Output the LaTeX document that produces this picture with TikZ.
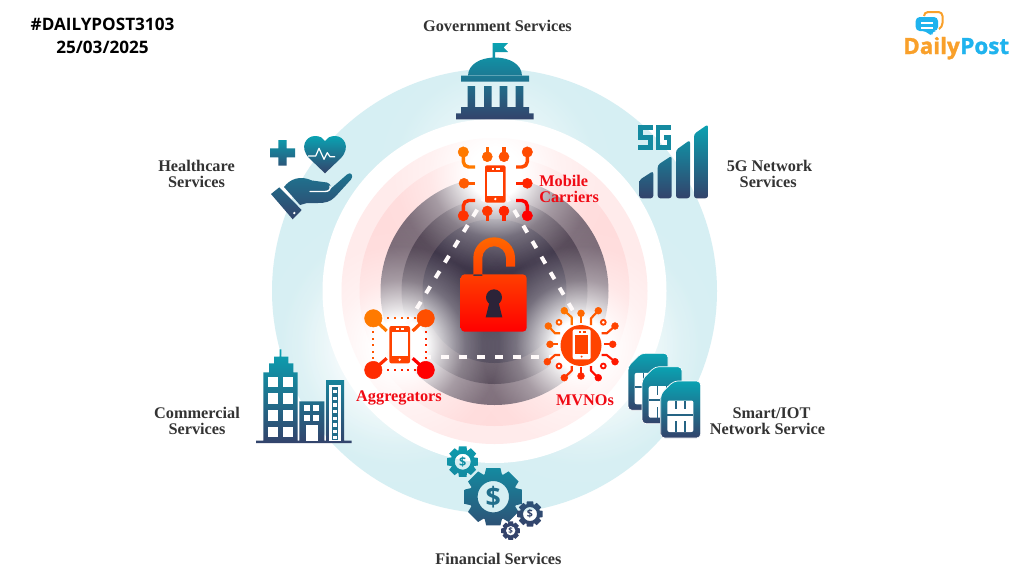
\documentclass[tikz,border=0pt]{standalone}
\usepackage{fontspec}
\setmainfont{Liberation Serif}
\newfontfamily\headf{Open Sans}
\newfontfamily\logof[BoldFeatures={FakeBold=1.3}]{Open Sans}
\usetikzlibrary{fadings,calc}
\definecolor{tealT}{HTML}{0AA2B2}
\definecolor{tealB}{HTML}{33436B}
\definecolor{ringblue}{HTML}{D6EFF3}
\definecolor{pinkA}{HTML}{FFEBEB}
\definecolor{pinkB}{HTML}{FFDCDC}
\definecolor{darkA}{HTML}{776673}
\definecolor{darkB}{HTML}{4A3C4C}
\definecolor{darkC}{HTML}{2C2338}
\definecolor{rA}{HTML}{FF7A00}
\definecolor{rB}{HTML}{FF0000}
\definecolor{lbl}{HTML}{333333}
\definecolor{lblred}{HTML}{F00A14}
\definecolor{logoO}{HTML}{F9A02A}
\definecolor{logoB}{HTML}{1FB3EE}
\pgfdeclareradialshading{glowsh}{\pgfpointorigin}{color(0bp)=(transparent!0); color(5bp)=(transparent!0); color(12.5bp)=(transparent!65); color(19bp)=(transparent!95); color(25bp)=(transparent!100); color(50bp)=(transparent!100)}
\pgfdeclarefading{glowfade}{\pgfuseshading{glowsh}}
\tikzset{
  tealgrad/.style={top color=tealT,bottom color=tealB,draw=none},
  redgrad/.style={top color=#1,bottom color=rB,draw=none},
  rc/.style={draw=rB!#1!rA,fill=rB!#1!rA},
  wire/.style={line width=1pt,fill=none,line join=round},
  glow/.style={fill=white,path fading=glowfade},
  svclabel/.style={font=\fontsize{12.2}{12}\selectfont\bfseries,text=lbl,align=center,inner sep=0pt},
  redlabel/.style={font=\fontsize{12.2}{12}\selectfont\bfseries,text=lblred,align=left,inner sep=0pt},
  headlabel/.style={font=\headf\fontsize{12.85}{13}\selectfont\bfseries,text=black,inner sep=0pt},
  dashlink/.style={draw=white!92!pink,line width=3pt,dash pattern=on 6pt off 7.5pt}
}
\newcommand\phoneicon[3]{%
  \fill[#3,rounded corners=1.5pt] ({#1-10.3},{#2-18.7}) rectangle ({#1+10.3},{#2+18.7});
  \fill[white] ({#1-8},{#2-12.3}) rectangle ({#1+8},{#2+11.7});
  \fill[white] ({#1-3.5},{#2-16.3}) rectangle ({#1-1},{#2-14.3});
  \fill[white] ({#1+1},{#2-16.3}) rectangle ({#1+4.5},{#2-14.3});
  \fill[white] (#1,{#2+15}) circle (1.3);
}
\newcommand\geartrain[7]{% cx cy outer root hole topcolor bottomcolor
  \path[top color=#6,bottom color=#7,even odd rule] ($(#1,#2)+(-14:#3)$)
    \foreach \a in {0,45,...,315} { -- ($(#1,#2)+(\a-14:#3)$) -- ($(#1,#2)+(\a+14:#3)$) -- ($(#1,#2)+(\a+21:#4)$) -- ($(#1,#2)+(\a+24:#4)$) } -- cycle
    (#1,#2) circle (#5);
}
\newcommand\simcard[2]{%
  \path[tealgrad,draw=white,line width=.5pt,rounded corners=3pt] ({#1+13},#2) -- ({#1+40},#2) -- ({#1+40},{#2+57}) -- (#1,{#2+57}) -- (#1,{#2+13}) -- cycle;
  \fill[white,rounded corners=1.5pt] ({#1+6.7},{#2+19.5}) rectangle ({#1+32.7},{#2+51});
  \fill[tealB!65!tealT] ({#1+6.7},{#2+32.5}) rectangle ({#1+32.7},{#2+34.5});
  \foreach \q in {14.6,23.6} {
    \fill[tealB!65!tealT] ({#1+\q},{#2+19.5}) rectangle ({#1+\q+1.8},{#2+28});
    \fill[tealB!65!tealT] ({#1+\q},{#2+40}) rectangle ({#1+\q+1.8},{#2+51});
  }
}
\begin{document}
\begin{tikzpicture}[x=0.75pt,y=-0.75pt]
\useasboundingbox (0,0) rectangle (1024,576);
\fill[white] (0,0) rectangle (1024,576);
% rings
\coordinate (hub) at (494.5,291);
\fill[ringblue] (hub) circle (222.5);
\fill[glow] (400,345) circle (155);
\fill[glow] (581,345) circle (155);
\fill[white] (hub) circle (172);
\fill[pinkA] (hub) circle (153);
\fill[pinkB] (hub) circle (135);
\fill[darkA] (hub) circle (114);
\fill[darkB] (hub) circle (93);
\fill[darkC] (hub) circle (72);
\fill[glow] (495,172) circle (130);
\fill[glow] (400,345) circle (130);
\fill[glow] (581,345) circle (130);
% links
\coordinate (apexT) at (496,179);
\coordinate (apexL) at (387,357);
\coordinate (apexR) at (600,357);
\draw[dashlink] (apexT) -- (apexL);
\draw[dashlink] (apexT) -- (apexR);
\draw[dashlink] (apexL) -- (apexR);
% lock
\path[redgrad=rA!85!rB]
  [rounded corners=3pt] (460.7,274.3) rectangle (526.7,331.7) [sharp corners]
  (473.3,276) -- (473.3,258) .. controls (473.3,246.5) and (482.7,237.3) .. (494.2,237.3) .. controls (505.7,237.3) and (515,246.5) .. (515,258) -- (515,266.7) -- (506,266.7) -- (506,258) .. controls (506,251.5) and (500.7,246.2) .. (494.2,246.2) .. controls (487.7,246.2) and (482.3,251.5) .. (482.3,258) -- (482.3,276) -- cycle;
\fill[darkC] (494,297.3) circle (8);
\fill[darkC] (490,300) -- (498,300) -- (502.3,317.3) -- (485.7,317.3) -- cycle;
% mobile carriers icon
\phoneicon{495.3}{184}{rB!50!rA}
\foreach \x/\y/\yb/\p in {487.3/156.7/146.7/20,504/156.7/146.7/35,487.3/211/221/55,504/211/221/70} {
  \fill[rc=\p] (\x,\y) circle (5);
  \draw[wire,line width=2.6pt,draw=rB!\p!rA] (\x,\y) -- (\x,\yb);
}
\foreach \x/\y/\xe/\p in {464/183.3/475/25,527.3/183.3/516/70} {
  \fill[rc=\p] (\x,\y) circle (5);
  \draw[wire,line width=2.6pt,draw=rB!\p!rA] (\x,\y) -- (\xe,\y);
}
\foreach \x/\y/\cy/\e/\p in {463.3/152/167/475/0,527.3/152/167/516/40,463.3/215.7/200.5/475/60,527.3/215.7/200.5/516/100} {
  \fill[rc=\p] (\x,\y) circle (5.2);
  \draw[wire,line width=2.6pt,draw=rB!\p!rA,rounded corners=4pt] (\x,\y) -- (\x,\cy) -- (\e,\cy);
}
% aggregators icon
\phoneicon{399.7}{344.7}{rB!45!rA}
\foreach \x/\y/\xe/\ye/\p in {373.3/318.3/386.7/331/0,425.7/318.3/412.7/331/35,373.3/370/386.7/358.3/65,425.7/370/412.7/358.3/100} {
  \fill[rc=\p] (\x,\y) circle (8.7);
  \draw[wire,line width=2.4pt,draw=rB!\p!rA] (\x,\y) -- (\xe,\ye);
}
\foreach \x in {388,394.8,401.6,408.4,415.2} {
  \fill[rB!30!rA] (\x-1,317.2) rectangle (\x+1,319.4);
  \fill[rB!75!rA] (\x-1,369) rectangle (\x+1,371.2);
}
\foreach \y in {332,338.5,345,351.5,358} {
  \fill[rB!30!rA] (372.3,\y-1) rectangle (374.3,\y+1);
  \fill[rB!70!rA] (424.7,\y-1) rectangle (426.7,\y+1);
}
% MVNO icon
\fill[rB!45!rA] (581,345.5) circle (20.5);
\fill[white,rounded corners=1.5pt] (572.7,329.3) rectangle (590.7,359.3);
\fill[rB!45!rA] (575,334.5) rectangle (588.3,354);
\fill[rB!45!rA] (578.5,331) rectangle (581,332.6);
\fill[rB!45!rA] (582.5,331) rectangle (585.5,332.6);
\fill[rB!45!rA] (581.6,356.6) circle (1.1);
\foreach \x/\y/\mx/\my/\ex/\ey/\p in {
  564.3/310.7/571.7/317.3/571.7/325/5,
  581/313.3/581/313.3/581/323.3/15,
  598.3/310.7/591/318.3/591/325/25,
  548.3/326/555/333.3/560/333.3/15,
  550/344.3/550/344.3/558.3/344.3/30,
  547.3/361.7/555/355/560/355/45,
  615/326/606.7/333.3/601.7/333.3/45,
  612.7/344.3/612.7/344.3/604/344.3/60,
  615/361.7/606.7/355/601.7/355/80,
  564.3/377.7/571.7/370.7/571.7/366/55,
  581/376/581/376/581/366.7/70,
  598.3/377.7/591/370.7/591/366/90} {
  \fill[rc=\p] (\x,\y) circle (3.4);
  \draw[wire,line width=1.6pt,draw=rB!\p!rA] (\x,\y) -- (\mx,\my) -- (\ex,\ey);
}
\foreach \x/\y/\p in {559/322.3/25,603.3/322.3/45,559/366/65,603.3/366/85} {
  \draw[line width=1.4pt,draw=rB!\p!rA,fill=white] (\x,\y) circle (2.4);
}
% government icon
\path[tealgrad]
  (492.5,43) -- (508,43) -- (503.5,47.5) -- (508,52) -- (495,52) -- (495,60) -- (492.5,60) -- cycle
  (468,76) .. controls (468,64) and (481,57.5) .. (495,57.5) .. controls (509,57.5) and (522,64) .. (522,76) -- cycle
  (461,75.7) rectangle (529,81.7)
  (467.5,86) rectangle (475,107)
  (484,86) rectangle (491.7,107)
  (499.7,86) rectangle (507.3,107)
  (515.7,86) rectangle (523.3,107)
  (461,107) rectangle (529,113.3)
  (456,113.3) rectangle (533.7,119.3);
% healthcare icon
\path[tealgrad]
  (278.3,140) -- (286.7,140) -- (286.7,148.3) -- (295,148.3) -- (295,157.3) -- (286.7,157.3) -- (286.7,165.7) -- (278.3,165.7) -- (278.3,157.3) -- (270,157.3) -- (270,148.3) -- (278.3,148.3) -- cycle
  (325,173.3) -- (309,158) .. controls (299,147) and (306,136) .. (315,136) .. controls (320,136) and (323,138) .. (325,141) .. controls (327,138) and (330,136) .. (335,136) .. controls (344,136) and (351,147) .. (341,158) -- cycle;
\draw[white,line width=.9pt,line join=round] (308,156) -- (315.7,156) -- (319,148.3) -- (324,159.3) -- (327.3,152.7) -- (330,156.7) -- (335,156.7);
\path[top color=tealB!45!tealT,bottom color=tealB]
  (284,187) .. controls (290,179) and (300,175) .. (312,180.5) -- (327,182.5) .. controls (331,184) and (331,187) .. (331,188.5) -- (347,174.5) .. controls (351,171) and (354,176) .. (351,179.5) -- (335,197) .. controls (330,202) and (325,203) .. (318,203) -- (307,203) -- (300,205) -- cycle
  (279.3,187.3) -- (301.7,210) -- (292.7,219.3) -- (271,194) -- cycle;
\draw[white,line width=1pt,line cap=round] (310,191.5) -- (325,191.5) .. controls (329,191.5) and (331,189) .. (330,186);
\fill[white] (294.3,213) circle (1.3);
% 5G icon
\path[tealgrad,rounded corners=2pt]
  (639.3,198.3) -- (639.3,180) -- (653.3,171) -- (653.3,198.3) -- cycle
  (657.7,198.3) -- (657.7,165) -- (671.7,155.7) -- (671.7,198.3) -- cycle
  (676,198.3) -- (676,150) -- (690,140) -- (690,198.3) -- cycle
  (694,198.3) -- (694,134) -- (708,124.3) -- (708,198.3) -- cycle;
\draw[tealT!75!tealB,line width=3.2pt] (652.5,127.5) -- (640.5,127.5) -- (640.5,137.5) -- (650.6,137.5) -- (650.6,147.5) -- (638.3,147.5);
\draw[tealT!75!tealB,line width=3.2pt] (670.5,127.5) -- (658.3,127.5) -- (658.3,147.5) -- (668.7,147.5) -- (668.7,137.5) -- (663.7,137.5);
% commercial icon
\path[tealgrad]
  (263.3,372.3) rectangle (297.7,442)
  (269,363.3) rectangle (293.3,372.5)
  (274,356.7) rectangle (288.3,363.5)
  (279.7,349.3) rectangle (281.3,357)
  (299.3,401.3) rectangle (324.3,442)
  (326,380) rectangle (344,442)
  (256,440.7) rectangle (351.7,443);
\foreach \y in {376.7,393.3,410,426.7} {
  \fill[white] (268.3,\y) rectangle (278.3,\y+10.6);
  \fill[white] (282.7,\y) rectangle (292.7,\y+10.6);
}
\foreach \y in {405,415} {
  \fill[white] (304.3,\y) rectangle (310,\y+6);
  \fill[white] (313.3,\y) rectangle (319.3,\y+6);
}
\fill[white] (305.7,425.3) rectangle (318.3,440.7);
\fill[white] (329.3,385) rectangle (340.7,440.7);
\fill[tealB!55!tealT] (331.7,387.3) rectangle (338.3,440);
\foreach \y in {390,396.7,403.3,410,416.7,423.3,429.5,435.5} {
  \fill[white] (333.3,\y) rectangle (337,\y+3.3);
}
% smart icon
\simcard{628}{353.3}
\simcard{642}{366.7}
\simcard{660.7}{381}
% financial icon
\geartrain{462.7}{461.7}{15.7}{12}{8}{tealT!92!tealB}{tealT!75!tealB}
\geartrain{493.3}{496.7}{29.5}{24}{15.7}{tealT!75!tealB}{tealB!85!tealT}
\geartrain{530}{514}{13}{10}{7}{tealB!85!tealT}{tealB}
\geartrain{510.7}{530.7}{9.5}{7.5}{4.8}{tealB}{tealB}
\node[inner sep=0pt,text=tealT!80!tealB,font=\headf\bfseries\fontsize{9.5}{9.5}\selectfont] (d1) at (462.7,461.7) {\$};
\node[inner sep=0pt,text=tealT!45!tealB,font=\headf\bfseries\fontsize{20}{20}\selectfont] (d2) at (493.3,496.7) {\$};
\node[inner sep=0pt,text=tealB,font=\headf\bfseries\fontsize{8}{8}\selectfont] (d3) at (530,514) {\$};
\node[inner sep=0pt,text=tealB,font=\headf\bfseries\fontsize{6}{6}\selectfont] (d4) at (510.7,530.7) {\$};
% service labels
\node[svclabel] (gov) at (497.5,25.5) {Government Services};
\node[svclabel] (fin) at (498.5,559) {Financial Services};
\node[svclabel] (hc) at (196.5,173.5) {Healthcare\\Services};
\node[svclabel] (fiveg) at (769.5,173.5) {5G Network\\\hspace{-2pt}Services};
\node[svclabel] (com) at (197,420.5) {Commercial\\Services};
\node[svclabel] (iot) at (767.5,421) {\hspace{6pt}Smart/IOT\\Network Service};
% network labels
\node[redlabel,anchor=west] (mc) at (539,188.5) {Mobile\\Carriers};
\node[redlabel] (ag) at (399,397.5) {Aggregators};
\node[redlabel] (mv) at (585,400.5) {MVNOs};
% header
\node[headlabel] (tag) at (102.5,24) {\#DAILYPOST3103};
\node[headlabel] (date) at (102.5,47) {25/03/2025};
% logo
\draw[logoO,line width=1.5pt,rounded corners=3pt] (924,16) -- (924,12) -- (942.5,12) -- (942.5,27) -- (939,29);
\path[fill=logoB,rounded corners=3pt] (915.7,17) -- (938,17) -- (938,31) -- (932,31) -- (932,37) -- (926,31) -- (915.7,31) -- cycle;
\draw[white,line width=1.1pt] (921,23) -- (932.5,23) (921,28) -- (932.5,28);
\node[anchor=base west,inner sep=0pt,text=logoO,font=\logof\bfseries\fontsize{16.8}{16.8}\selectfont] (lgd) at (903,54) {Daily};
\node[anchor=base west,inner sep=0pt,text=logoB,font=\logof\bfseries\fontsize{16.8}{16.8}\selectfont] (lgp) at (lgd.base east) {Post};
\end{tikzpicture}
\end{document}
